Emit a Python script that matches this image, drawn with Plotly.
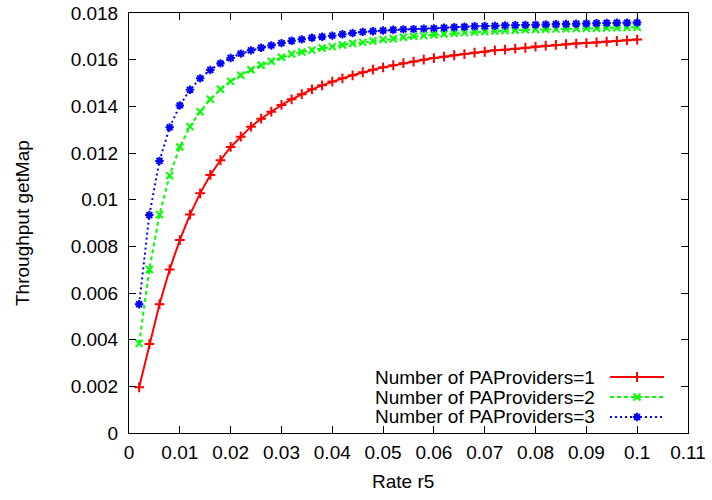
import plotly.graph_objects as go

rate_r5 = [0.002, 0.004, 0.006, 0.008, 0.010, 0.012, 0.014, 0.016, 0.018, 0.020,
           0.022, 0.024, 0.026, 0.028, 0.030, 0.032, 0.034, 0.036, 0.038, 0.040,
           0.042, 0.044, 0.046, 0.048, 0.050, 0.052, 0.054, 0.056, 0.058, 0.060,
           0.062, 0.064, 0.066, 0.068, 0.070, 0.072, 0.074, 0.076, 0.078, 0.080,
           0.082, 0.084, 0.086, 0.088, 0.090, 0.092, 0.094, 0.096, 0.098, 0.100]

providers_1 = [0.00196, 0.00381, 0.00552, 0.00701, 0.00827, 0.00936, 0.01027, 0.01106, 0.01169, 0.01226,
               0.01270, 0.01313, 0.01347, 0.01377, 0.01406, 0.01430, 0.01452, 0.01473, 0.01490, 0.01506,
               0.01520, 0.01533, 0.01546, 0.01557, 0.01567, 0.01576, 0.01585, 0.01592, 0.01600, 0.01607,
               0.01613, 0.01619, 0.01624, 0.01630, 0.01634, 0.01640, 0.01643, 0.01647, 0.01651, 0.01656,
               0.01660, 0.01663, 0.01666, 0.01669, 0.01671, 0.01674, 0.01677, 0.01680, 0.01683, 0.01686]

providers_2 = [0.00384, 0.00701, 0.00936, 0.01103, 0.01226, 0.01313, 0.01377, 0.01430, 0.01473, 0.01507,
               0.01533, 0.01557, 0.01576, 0.01593, 0.01610, 0.01624, 0.01633, 0.01641, 0.01650, 0.01656,
               0.01663, 0.01669, 0.01674, 0.01680, 0.01686, 0.01690, 0.01696, 0.01700, 0.01703, 0.01707,
               0.01710, 0.01713, 0.01716, 0.01718, 0.01721, 0.01723, 0.01725, 0.01726, 0.01728, 0.01729,
               0.01730, 0.01731, 0.01732, 0.01733, 0.01734, 0.01735, 0.01736, 0.01737, 0.01738, 0.01739]

providers_3 = [0.00552, 0.00934, 0.01166, 0.01310, 0.01404, 0.01471, 0.01520, 0.01556, 0.01584, 0.01607,
               0.01626, 0.01640, 0.01651, 0.01661, 0.01671, 0.01681, 0.01687, 0.01694, 0.01698, 0.01703,
               0.01709, 0.01714, 0.01719, 0.01722, 0.01725, 0.01728, 0.01730, 0.01731, 0.01733, 0.01734,
               0.01737, 0.01739, 0.01741, 0.01743, 0.01744, 0.01745, 0.01747, 0.01748, 0.01749, 0.01750,
               0.01751, 0.01752, 0.01753, 0.01754, 0.01755, 0.01756, 0.01757, 0.01758, 0.01758, 0.01759]

series_names = ["Number of PAProviders=1", "Number of PAProviders=2", "Number of PAProviders=3"]

x_tick_vals = [0, 0.01, 0.02, 0.03, 0.04, 0.05, 0.06, 0.07, 0.08, 0.09, 0.1, 0.11]
x_tick_text = ["0", "0.01", "0.02", "0.03", "0.04", "0.05", "0.06", "0.07", "0.08", "0.09", "0.1", "0.11"]
y_tick_vals = [0, 0.002, 0.004, 0.006, 0.008, 0.01, 0.012, 0.014, 0.016, 0.018]
y_tick_text = ["0", "0.002", "0.004", "0.006", "0.008", "0.01", "0.012", "0.014", "0.016", "0.018"]

x_title = "Rate r5"
y_title = "Throughput getMap"

FONT = "Liberation Sans, Arial, sans-serif"
FS = 19
MS = 7

styles = [
    dict(color="#ff0000", dash="solid", symbol="cross-thin"),
    dict(color="#00ff00", dash="4px,3px", symbol="x-thin"),
    dict(color="#0000ff", dash="2px,3px", symbol="asterisk"),
]

fig = go.Figure()
for ys, name, st in zip([providers_1, providers_2, providers_3], series_names, styles):
    fig.add_trace(go.Scatter(
        x=rate_r5, y=ys, mode="lines+markers", name=name, showlegend=False,
        line=dict(color=st["color"], width=2, dash=st["dash"]),
        marker=dict(symbol=st["symbol"], size=MS, color=st["color"],
                    line=dict(color=st["color"], width=2)),
    ))

# custom gnuplot-style key (text left, sample right) on an overlay unit axis
key_rows = [0.1333, 0.0857, 0.0381]
for row, name, st in zip(key_rows, series_names, styles):
    fig.add_trace(go.Scatter(
        x=[0.8605, 0.957], y=[row, row], mode="lines", xaxis="x2", yaxis="y2",
        showlegend=False, hoverinfo="skip",
        line=dict(color=st["color"], width=2, dash=st["dash"]),
    ))
    fig.add_trace(go.Scatter(
        x=[0.9088], y=[row], mode="markers", xaxis="x2", yaxis="y2",
        showlegend=False, hoverinfo="skip",
        marker=dict(symbol=st["symbol"], size=MS, color=st["color"],
                    line=dict(color=st["color"], width=2)),
    ))
    fig.add_annotation(x=0.837, y=row, xref="paper", yref="paper", text=name,
                       showarrow=False, xanchor="right", yanchor="middle",
                       font=dict(family=FONT, size=FS, color="black"))

# axis titles
fig.add_annotation(x=0.490, y=-0.1143, xref="paper", yref="paper", text=x_title,
                   showarrow=False, xanchor="center", yanchor="middle",
                   font=dict(family=FONT, size=FS, color="black"))
fig.add_annotation(x=0, y=0.5, xref="paper", yref="paper", xshift=-107, text=y_title,
                   showarrow=False, xanchor="center", yanchor="middle", textangle=-90,
                   font=dict(family=FONT, size=FS, color="black"))

axis_common = dict(
    showline=True, linecolor="black", linewidth=1, mirror="ticks",
    ticks="inside", ticklen=7, tickcolor="black", tickwidth=1,
    showgrid=False, zeroline=False, automargin=False,
    tickfont=dict(family=FONT, size=FS, color="black"),
)

fig.update_layout(
    width=712, height=500,
    margin=dict(l=129, r=24, t=13, b=67, autoexpand=False),
    paper_bgcolor="white", plot_bgcolor="white",
    font=dict(family=FONT, size=FS, color="black"),
    xaxis=dict(range=[0, 0.11], tickvals=x_tick_vals, ticktext=x_tick_text,
               ticklabelstandoff=2, **axis_common),
    yaxis=dict(range=[0, 0.018], tickvals=y_tick_vals, ticktext=y_tick_text,
               ticklabelstandoff=6, **axis_common),
    xaxis2=dict(range=[0, 1], overlaying="x", visible=False, fixedrange=True),
    yaxis2=dict(range=[0, 1], overlaying="y", visible=False, fixedrange=True),
    showlegend=False,
)

fig.write_html("out.html", config={"displayModeBar": False},
               post_script="document.body.style.margin='0';")
